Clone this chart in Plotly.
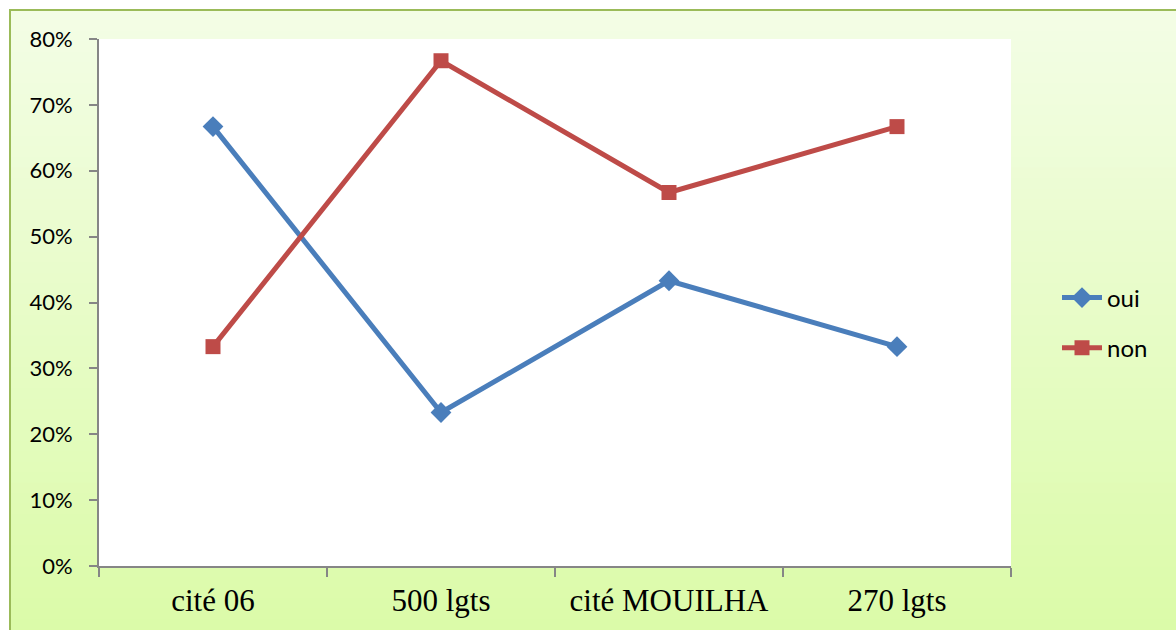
import plotly.graph_objects as go

categories = ["cité 06", "500 lgts", "cité MOUILHA", "270 lgts"]
oui = [0.667, 0.233, 0.433, 0.333]
non = [0.333, 0.767, 0.567, 0.667]
y_ticks = [0, 0.1, 0.2, 0.3, 0.4, 0.5, 0.6, 0.7, 0.8]
y_tick_labels = ["0%", "10%", "20%", "30%", "40%", "50%", "60%", "70%", "80%"]

OFF = 0  # body margin removed via post_script
W, H = 1176, 630
# plot area in page pixels: x 99..1011, y 39..566
L, T = 99 - OFF, 39 - OFF
R = W - (1011 - OFF)
B = H - (566 - OFF)
PW, PH = W - L - R, H - T - B


def px_x(p):
    return (p - OFF - L) / PW


def px_y(p):
    return (H - B - (p - OFF)) / PH


fig = go.Figure()
fig.add_trace(go.Scatter(
    x=categories, y=oui, name="oui", mode="lines+markers", legendgroup="a",
    line=dict(color="#4A7EBB", width=5),
    marker=dict(symbol="diamond", size=16, color="#4A7EBB"),
))
fig.add_trace(go.Scatter(
    x=categories, y=non, name="non", mode="lines+markers", legendgroup="b",
    line=dict(color="#BE4B48", width=5),
    marker=dict(symbol="square", size=15, color="#BE4B48"),
))

# vertical gradient background (light green)
shapes = []
top_c = (0xF3, 0xFD, 0xE5)
bot_c = (0xDB, 0xFB, 0xA8)
n = 60
y_start, y_end = 10, 640
for i in range(n):
    f = i / (n - 1)
    c = tuple(round(top_c[k] + (bot_c[k] - top_c[k]) * f) for k in range(3))
    ya = y_start + (y_end - y_start) * i / n
    yb = y_start + (y_end - y_start) * (i + 1) / n + 1
    shapes.append(dict(
        type="rect", xref="paper", yref="paper", layer="below",
        x0=px_x(10), x1=px_x(1200), y0=px_y(yb), y1=px_y(ya),
        fillcolor="rgb(%d,%d,%d)" % c, line=dict(width=0),
    ))
# white plot area
shapes.append(dict(
    type="rect", xref="x domain", yref="y domain", layer="below",
    x0=0, x1=1, y0=0, y1=1, fillcolor="white", line=dict(width=0),
))
# chart border (top and left)
shapes.append(dict(
    type="path", xref="paper", yref="paper", layer="below",
    path="M %f %f L %f %f L %f %f" % (px_x(10), px_y(660), px_x(10), px_y(10), px_x(1200), px_y(10)),
    line=dict(color="#9BBB59", width=2),
))

fig.update_layout(
    width=W, height=H,
    margin=dict(l=L, r=R, t=T, b=B),
    paper_bgcolor="white",
    plot_bgcolor="white",
    shapes=shapes,
    showlegend=True,
    legend=dict(
        x=px_x(1057), y=px_y(323), xanchor="left", yanchor="middle",
        bgcolor="rgba(0,0,0,0)", font=dict(family="Lato, Open Sans, sans-serif", size=24, color="black"),
        tracegroupgap=16, itemwidth=40,
    ),
    xaxis=dict(
        type="category", categoryorder="array", categoryarray=categories,
        range=[-0.5, 3.5], tickson="boundaries", ticks="outside", ticklen=9,
        tickcolor="#868686", tickwidth=2, showline=True, linecolor="#868686",
        linewidth=2, showgrid=False, zeroline=False, ticklabelstandoff=6,
        tickfont=dict(family="Liberation Serif, Times New Roman, serif", size=31, color="black"),
    ),
    yaxis=dict(
        range=[0, 0.8], tickvals=y_ticks, ticktext=y_tick_labels,
        ticks="outside", ticklen=8, tickcolor="#868686", tickwidth=2,
        showline=True, linecolor="#868686", linewidth=2, showgrid=False,
        zeroline=False, ticklabelstandoff=12,
        tickfont=dict(family="Lato, Open Sans, sans-serif", size=22, color="black"),
    ),
)

fig.write_html(
    "out.html",
    config={"displayModeBar": False},
    post_script="document.body.style.margin='0';document.body.style.overflow='hidden';",
)
